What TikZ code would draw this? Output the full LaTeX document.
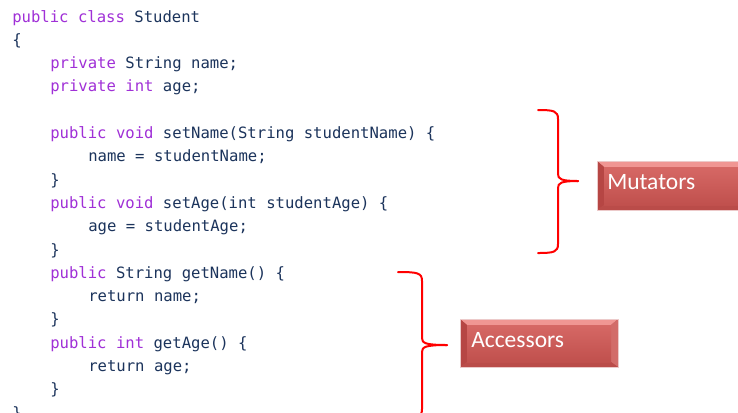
\documentclass[tikz,border=0pt]{standalone}
\usepackage{fontspec}
\setmainfont{Carlito}
\newfontfamily\codefont{DejaVu Sans Mono}
\definecolor{kwc}{RGB}{160,48,215}
\definecolor{txc}{RGB}{28,52,92}
\definecolor{bred}{RGB}{192,80,77}
\definecolor{bredlight}{RGB}{214,104,101}
\definecolor{bevtop}{RGB}{240,150,147}
\definecolor{bevleft}{RGB}{182,70,68}
\definecolor{bevright}{RGB}{210,108,105}
\definecolor{bevbot}{RGB}{186,76,73}
\newcommand\kwd[1]{\textcolor{kwc}{#1}}
\newcommand\bevbox[4]{% x1,y1,x2,y2
  \fill[bred] (#1,#2) rectangle (#3,#4);
  \fill[bevtop] (#1,#2) -- (#3,#2) -- ({#3-7},{#2+6}) -- ({#1+7},{#2+6}) -- cycle;
  \fill[bevleft] (#1,#2) -- ({#1+7},{#2+6}) -- ({#1+7},{#4-5}) -- (#1,#4) -- cycle;
  \fill[bevright] (#3,#2) -- ({#3-7},{#2+6}) -- ({#3-7},{#4-5}) -- (#3,#4) -- cycle;
  \fill[bevbot] (#1,#4) -- ({#1+7},{#4-5}) -- ({#3-7},{#4-5}) -- (#3,#4) -- cycle;
  \shade[top color=bredlight,bottom color=bred] ({#1+7},{#2+6}) rectangle ({#3-7},{#4-5});
  \draw[bred!30,line width=0.5pt] (#1,#2) rectangle (#3,#4);
}
\begin{document}
\begin{tikzpicture}[x=0.75pt,y=-0.75pt,
  code/.style={anchor=base west,inner sep=0pt,text=txc,
    font=\codefont\fontsize{11.7pt}{14pt}\selectfont},
  brace/.style={draw=red,line width=1.5pt,line cap=round,line join=round},
  lbl/.style={anchor=base west,inner sep=0pt,text=white,
    font=\fontsize{17.6pt}{20pt}\selectfont}]
\useasboundingbox (0,0) rectangle (738,412);
\clip (0,0) rectangle (738,412);
\fill[white] (0,0) rectangle (738,412);

% code
\node[code] (l0)  at (12,{22+23.3*0})  {\kwd{public class} Student};
\node[code] (l1)  at (12,{22+23.3*1})  {\{};
\node[code] (l2)  at (50,{22+23.3*2})  {\kwd{private} String name;};
\node[code] (l3)  at (50,{22+23.3*3})  {\kwd{private int} age;};
\node[code] (l5)  at (50,{22+23.3*5})  {\kwd{public void} setName(String studentName) \{};
\node[code] (l6)  at (88,{22+23.3*6})  {name = studentName;};
\node[code] (l7)  at (50,{22+23.3*7})  {\}};
\node[code] (l8)  at (50,{22+23.3*8})  {\kwd{public void} setAge(int studentAge) \{};
\node[code] (l9)  at (88,{22+23.3*9})  {age = studentAge;};
\node[code] (l10) at (50,{22+23.3*10}) {\}};
\node[code] (l11) at (50,{22+23.3*11}) {\kwd{public} String getName() \{};
\node[code] (l12) at (88,{22+23.3*12}) {return name;};
\node[code] (l13) at (50,{22+23.3*13}) {\}};
\node[code] (l14) at (50,{22+23.3*14}) {\kwd{public int} getAge() \{};
\node[code] (l15) at (88,{22+23.3*15}) {return age;};
\node[code] (l16) at (50,{22+23.3*16}) {\}};
\node[code] (l17) at (12,{22+23.3*17}) {\}};

\bevbox{597}{161}{760}{210}
\node[lbl] (mut) at (607,189) {Mutators};
\bevbox{460}{319}{618}{367}
\node[lbl] (acc) at (471,347) {Accessors};

% braces
\coordinate (mtop) at (538,110);
\coordinate (mtip) at (578,181);
\coordinate (mbot) at (538,253);
\draw[brace] (mtop) .. controls (554,110) and (558,111) .. (558,119)
  -- (558,174) .. controls (558,179) and (561,181) .. (mtip);
\draw[brace] (mtip) .. controls (561,181) and (558,183) .. (558,188)
  -- (558,244) .. controls (558,252) and (554,253) .. (mbot);

\coordinate (atop) at (398,272);
\coordinate (atip) at (447,345);
\coordinate (abot) at (398,418);
\draw[brace] (atop) .. controls (418,272) and (422,273) .. (422,281)
  -- (422,338) .. controls (422,343) and (425,345) .. (atip);
\draw[brace] (atip) .. controls (425,345) and (422,347) .. (422,352)
  -- (422,409) .. controls (422,417) and (418,418) .. (abot);
\end{tikzpicture}
\end{document}
